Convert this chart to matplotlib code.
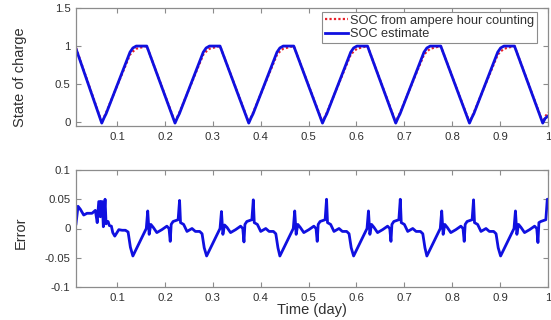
import numpy as np
import matplotlib
matplotlib.use("Agg")
import matplotlib.pyplot as plt

plt.rcParams['font.family'] = ['Liberation Sans', 'DejaVu Sans']

# ---------------- data ----------------
# SOC estimate (blue) vertices
soc_est_t = [0.0142, 0.068, 0.073, 0.077, 0.127, 0.133, 0.140, 0.162,
             0.221, 0.226, 0.230, 0.280, 0.286, 0.293, 0.315,
             0.375, 0.380, 0.384, 0.434, 0.440, 0.447, 0.469,
             0.529, 0.534, 0.538, 0.588, 0.594, 0.601, 0.623,
             0.682, 0.687, 0.691, 0.741, 0.747, 0.754, 0.776,
             0.836, 0.841, 0.845, 0.895, 0.901, 0.908, 0.930,
             0.989, 0.994, 1.000]
soc_est_v = [0.965, -0.012, 0.06, 0.11, 0.92, 0.975, 1.0, 1.0,
             -0.012, 0.06, 0.11, 0.92, 0.975, 1.0, 1.0,
             -0.012, 0.06, 0.11, 0.92, 0.975, 1.0, 1.0,
             -0.012, 0.06, 0.11, 0.92, 0.975, 1.0, 1.0,
             -0.012, 0.06, 0.11, 0.92, 0.975, 1.0, 1.0,
             -0.012, 0.06, 0.11, 0.92, 0.975, 1.0, 1.0,
             -0.012, 0.05, 0.08]

# SOC from ampere hour counting (red dotted) vertices
soc_ah_t = [0.0142, 0.068, 0.073, 0.077, 0.127, 0.133, 0.140, 0.162,
            0.221, 0.226, 0.230, 0.280, 0.286, 0.293, 0.315,
            0.375, 0.380, 0.384, 0.434, 0.440, 0.447, 0.469,
            0.529, 0.534, 0.538, 0.588, 0.594, 0.601, 0.623,
            0.682, 0.687, 0.691, 0.741, 0.747, 0.754, 0.776,
            0.836, 0.841, 0.845, 0.895, 0.901, 0.908, 0.930,
            0.989, 0.994, 1.000]
soc_ah_v = [0.975, 0.0, 0.07, 0.125, 0.887, 0.928, 0.965, 1.0,
            0.0, 0.07, 0.125, 0.887, 0.928, 0.965, 1.0,
            0.0, 0.07, 0.125, 0.887, 0.928, 0.965, 1.0,
            0.0, 0.07, 0.125, 0.887, 0.928, 0.965, 1.0,
            0.0, 0.07, 0.125, 0.887, 0.928, 0.965, 1.0,
            0.0, 0.07, 0.125, 0.887, 0.928, 0.965, 1.0,
            0.0, 0.07, 0.13]

# Error vertices
err_t = [0.0142, 0.0184, 0.0232, 0.0303, 0.0372, 0.0477, 0.0546, 0.0585,
         0.0617, 0.0635, 0.0650, 0.0665, 0.0690, 0.0713, 0.0749, 0.0770,
         0.0812, 0.0839, 0.0881, 0.0910, 0.0952, 0.1036, 0.1105, 0.1174,
         0.1230, 0.1278,
         0.133, 0.161, 0.164, 0.167, 0.1705, 0.1755, 0.183, 0.1935, 0.204,
         0.2085, 0.211, 0.213, 0.217, 0.2275, 0.2305, 0.2325, 0.239, 0.246,
         0.2565, 0.2635, 0.2725, 0.2775, 0.282,
         0.287, 0.315, 0.318, 0.321, 0.3245, 0.3295, 0.337, 0.3475, 0.358,
         0.3625, 0.365, 0.367, 0.371, 0.3815, 0.3845, 0.3865, 0.393, 0.400,
         0.4105, 0.4175, 0.4265, 0.4315, 0.436,
         0.440, 0.468, 0.471, 0.474, 0.4775, 0.4825, 0.490, 0.5005, 0.511,
         0.5155, 0.518, 0.520, 0.524, 0.5345, 0.5375, 0.5395, 0.546, 0.553,
         0.5635, 0.5705, 0.5795, 0.5845, 0.589,
         0.594, 0.622, 0.625, 0.628, 0.6315, 0.6365, 0.644, 0.6545, 0.665,
         0.6695, 0.672, 0.674, 0.678, 0.6885, 0.6915, 0.6935, 0.700, 0.707,
         0.7175, 0.7245, 0.7335, 0.7385, 0.743,
         0.747, 0.775, 0.778, 0.781, 0.7845, 0.7895, 0.797, 0.8075, 0.818,
         0.8225, 0.825, 0.827, 0.831, 0.8415, 0.8445, 0.8465, 0.853, 0.860,
         0.8705, 0.8775, 0.8865, 0.8915, 0.896,
         0.901, 0.929, 0.932, 0.935, 0.9385, 0.9435, 0.951, 0.9615, 0.972,
         0.9765, 0.979, 0.981, 0.985, 0.9955, 0.9985, 1.000]
err_v = [0.008, 0.038, 0.033, 0.023, 0.026, 0.026, 0.031, 0.010,
         0.046, 0.046, 0.020, 0.046, 0.046, 0.003, 0.050, 0.008,
         0.012, 0.005, 0.004, -0.007, -0.013, -0.002, -0.003, -0.003,
         -0.006, -0.032,
         -0.047, 0.000, 0.030, -0.010, 0.007, 0.002, -0.007, -0.002, 0.004,
         0.000, -0.022, 0.007, 0.012, 0.015, 0.048, 0.010, 0.007, -0.005,
         0.000, -0.005, -0.005, -0.009, -0.033,
         -0.047, 0.000, 0.029, -0.010, 0.006, 0.002, -0.007, -0.002, 0.004,
         0.000, -0.023, 0.007, 0.012, 0.015, 0.049, 0.010, 0.007, -0.005,
         0.000, -0.005, -0.005, -0.009, -0.033,
         -0.047, 0.000, 0.030, -0.010, 0.007, 0.002, -0.007, -0.002, 0.004,
         0.000, -0.022, 0.007, 0.012, 0.015, 0.050, 0.010, 0.007, -0.005,
         0.000, -0.005, -0.005, -0.009, -0.033,
         -0.047, 0.000, 0.030, -0.010, 0.007, 0.002, -0.007, -0.002, 0.004,
         0.000, -0.022, 0.007, 0.012, 0.015, 0.050, 0.010, 0.007, -0.005,
         0.000, -0.005, -0.005, -0.009, -0.033,
         -0.047, 0.000, 0.030, -0.010, 0.007, 0.002, -0.007, -0.002, 0.004,
         0.000, -0.022, 0.007, 0.012, 0.015, 0.049, 0.010, 0.007, -0.005,
         0.000, -0.005, -0.005, -0.009, -0.033,
         -0.047, 0.000, 0.030, -0.010, 0.007, 0.002, -0.007, -0.002, 0.004,
         0.000, -0.024, 0.010, 0.012, 0.015, 0.050, 0.050]

x_ticks = [0.1, 0.2, 0.3, 0.4, 0.5, 0.6, 0.7, 0.8, 0.9, 1.0]
x_ticklabels = ['0.1', '0.2', '0.3', '0.4', '0.5', '0.6', '0.7', '0.8', '0.9', '1']
soc_ticks = [0, 0.5, 1, 1.5]
soc_ticklabels = ['0', '0.5', '1', '1.5']
err_ticks = [-0.1, -0.05, 0, 0.05, 0.1]
err_ticklabels = ['-0.1', '-0.05', '0', '0.05', '0.1']

legend_labels = ['SOC from ampere hour counting', 'SOC estimate']

# ---------------- figure ----------------
W, H = 551, 320
fig = plt.figure(figsize=(W / 100, H / 100), dpi=100)
fig.patch.set_facecolor('white')

ax1 = fig.add_axes([76 / W, 1 - 126 / H, (548 - 76) / W, (126 - 8) / H])
ax2 = fig.add_axes([76 / W, 1 - 287 / H, (548 - 76) / W, (287 - 170) / H])

red_c = '#e8202a'
blue_c = '#1010e0'
spine_c = '#8c8c8c'
text_c = '#303030'

l1, = ax1.plot(soc_ah_t, soc_ah_v, linestyle=(0, (1, 1)), color=red_c, lw=1.6)
l2, = ax1.plot(soc_est_t, soc_est_v, '-', color=blue_c, lw=2.0)
ax2.plot(err_t, err_v, '-', color=blue_c, lw=2.0)

for ax in (ax1, ax2):
    ax.set_xlim(0.0142, 1.0)
    ax.set_xticks(x_ticks)
    ax.set_xticklabels(x_ticklabels)
    ax.tick_params(direction='in', length=3.5, width=0.8, colors=spine_c,
                   labelcolor=text_c, labelsize=8.2, top=True, right=True, pad=4)
    for s in ax.spines.values():
        s.set_color(spine_c)
        s.set_linewidth(0.9)

ax1.set_ylim(-0.05, 1.5)
ax1.set_yticks(soc_ticks)
ax1.set_yticklabels(soc_ticklabels)
ax2.set_ylim(-0.1, 0.1)
ax2.set_yticks(err_ticks)
ax2.set_yticklabels(err_ticklabels)

ax1.set_ylabel('State of charge', fontsize=10.5, color=text_c)
ax2.set_ylabel('Error', fontsize=10.5, color=text_c)
ax2.set_xlabel('Time (day)', fontsize=10.5, color=text_c, labelpad=0)
ax1.yaxis.set_label_coords(-0.103, 0.41)
ax2.yaxis.set_label_coords(-0.103, 0.46)

leg = ax1.legend([l1, l2], legend_labels, loc='upper right',
                 bbox_to_anchor=((537 - 76) / 472, (126 - 12) / 118),
                 borderaxespad=0, fontsize=9.2, handlelength=1.8,
                 handletextpad=0.2, labelspacing=0.1, borderpad=0.22,
                 fancybox=False, framealpha=1)
leg.get_frame().set_edgecolor(spine_c)
leg.get_frame().set_linewidth(0.8)
for t in leg.get_texts():
    t.set_color(text_c)

fig.savefig('out.png', dpi=100, facecolor='white')
